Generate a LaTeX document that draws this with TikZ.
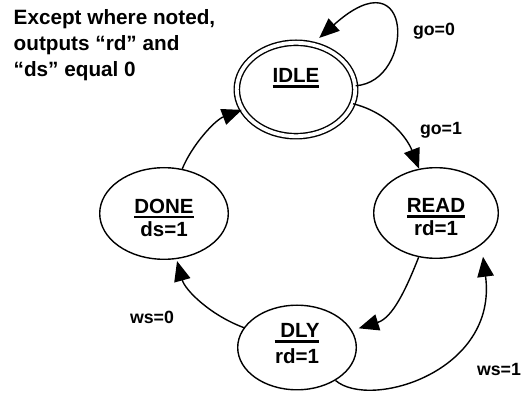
\documentclass[tikz,border=0pt]{standalone}
\usepackage{fontspec}
\setmainfont{Liberation Sans}
\usepackage{tikz}
\usetikzlibrary{arrows.meta,shapes}
\newsavebox{\stnamebox}
\newcommand{\stname}[1]{\sbox{\stnamebox}{#1}\rlap{\vrule width\wd\stnamebox height -2.5bp depth 5.2bp}\usebox{\stnamebox}}

\begin{document}
\begin{tikzpicture}[>={Triangle[length=20bp,width=16.5bp]},line join=bevel,
  state/.style={draw,ellipse,line width=1.4bp,inner sep=0pt,align=center,font=\fontsize{20.6}{23}\selectfont\bfseries},
  cond/.style={anchor=base,inner sep=0pt,font=\fontsize{17.8}{20}\selectfont\bfseries}]
\useasboundingbox (0bp,0bp) rectangle (528bp,394bp);
%%
\begin{scope}
  \node (note) at (13.5bp,385bp) [anchor=north west,inner sep=0pt,align=left,font=\fontsize{20.8}{26}\selectfont\bfseries] {Except where noted,\\outputs “rd” and\\“ds” equal 0};
  \node (IDLE) at (296bp,304.5bp) [state,double,double distance=3.8bp,minimum width=118.4bp,minimum height=93.4bp] {\stname{IDLE}\rule[-27.3bp]{0pt}{27.3bp}};
  \node (READ) at (436bp,181bp) [state,minimum width=124.6bp,minimum height=90.6bp] {\rule{0pt}{22.6bp}\stname{READ}\\rd=1};
  \node (DONE) at (164bp,180.5bp) [state,minimum width=128.6bp,minimum height=91.6bp] {\rule{0pt}{22.6bp}\stname{DONE}\\ds=1};
  \node (DLY) at (297bp,46.5bp) [state,minimum width=118.6bp,minimum height=84.6bp] {\stname{\ DLY}\\[3bp]rd=1\rule[-8.5bp]{0pt}{8.5bp}};
  \node (go0) at (434bp,358bp) [cond] {go=0};
  \node (go1) at (441bp,259bp) [cond] {go=1};
  \node (ws0) at (152bp,70bp) [cond] {ws=0};
  \node (ws1) at (499bp,19bp) [cond] {ws=1};
\end{scope}
\begin{scope}[line width=1.4bp]
  \draw [->,shorten >=9bp] (IDLE) ..controls (415bp,312bp) and (415bp,442bp) .. (IDLE.70);
  \draw [->] (IDLE) ..controls (390bp,281bp) and (408bp,254bp) .. (READ);
  \draw [->,shorten >=7bp] (READ) ..controls (405bp,102bp) and (392bp,76bp) .. (DLY);
  \draw [->,shorten >=2bp] (DLY) ..controls (210bp,79bp) and (185bp,104bp) .. (DONE);
  \draw [->] (DONE) ..controls (192bp,249bp) and (215bp,274bp) .. (IDLE);
  \draw [->,shorten >=12bp] (DLY) ..controls (370bp,-16bp) and (498bp,22bp) .. (READ.-35);
\end{scope}
%
\end{tikzpicture}
\end{document}
